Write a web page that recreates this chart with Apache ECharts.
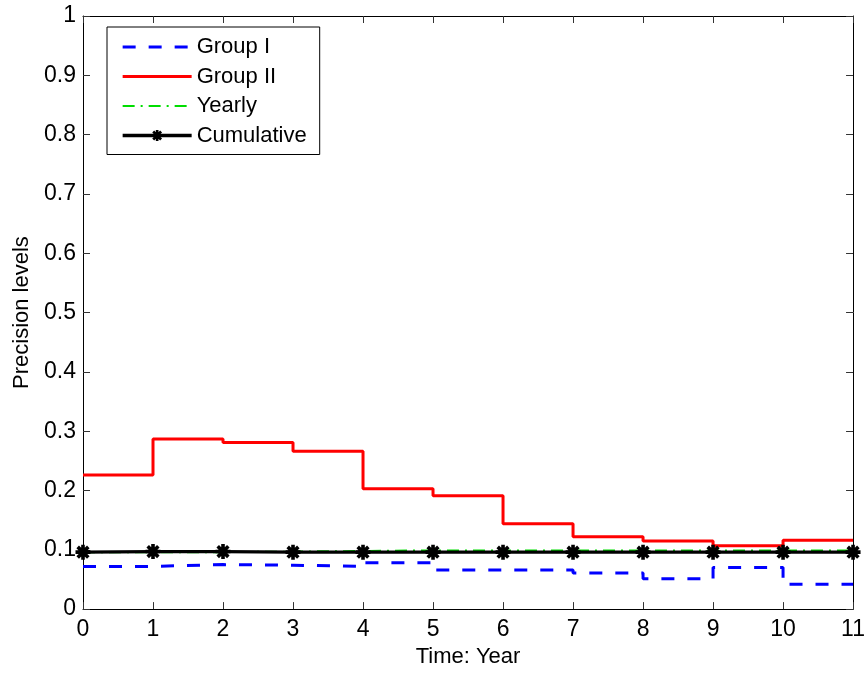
<!DOCTYPE html>
<html>
<head>
<meta charset="utf-8">
<title>Precision levels over time</title>
<script src="https://cdn.jsdelivr.net/npm/echarts@6/dist/echarts.min.js"></script>
<style>
  html, body { margin: 0; padding: 0; background: #fff; }
  #chart { width: 868px; height: 673px; }
</style>
</head>
<body>
<div id="chart"></div>
<script>
// Years 0..11; stair values hold from year i until year i+1 (last value repeated at 11)
const years = [0, 1, 2, 3, 4, 5, 6, 7, 8, 9, 10, 11];
const groupI = [0.072, 0.075, 0.074, 0.072, 0.078, 0.066, 0.066, 0.061, 0.051, 0.070, 0.042, 0.042];
const groupII = [0.226, 0.287, 0.281, 0.266, 0.203, 0.191, 0.144, 0.122, 0.115, 0.107, 0.116, 0.116];
const yearly = [0.096, 0.096, 0.097, 0.098, 0.099, 0.099, 0.099, 0.099, 0.099, 0.099, 0.099, 0.099];
const cumulative = [0.096, 0.097, 0.097, 0.096, 0.096, 0.096, 0.096, 0.096, 0.096, 0.096, 0.096, 0.096];
const seriesNames = ['Group I', 'Group II', 'Yearly', 'Cumulative'];

const FONT = 'Liberation Sans, Arial, Helvetica, sans-serif';

// Eight-spoke asterisk marker built from rotated bars
function asteriskPath(thickness) {
  const c = 50, half = 50, t = thickness / 2;
  let d = '';
  [0, 45, 90, 135].forEach(function (deg) {
    const a = deg * Math.PI / 180;
    const ux = Math.cos(a), uy = Math.sin(a);
    const vx = -uy, vy = ux;
    const pts = [
      [c - ux * half - vx * t, c - uy * half - vy * t],
      [c + ux * half - vx * t, c + uy * half - vy * t],
      [c + ux * half + vx * t, c + uy * half + vy * t],
      [c - ux * half + vx * t, c - uy * half + vy * t]
    ];
    d += 'M' + pts.map(function (p) { return p[0].toFixed(2) + ' ' + p[1].toFixed(2); }).join(' L') + ' Z ';
  });
  return 'path://' + d;
}

function pairs(vals) {
  return years.map(function (x, i) { return [x, vals[i]]; });
}

const chart = echarts.init(document.getElementById('chart'), null, { renderer: 'canvas' });

const nameText = { color: '#000', fontFamily: FONT, fontSize: 22 };
const tickText = { color: '#000', fontFamily: FONT, fontSize: 23 };
const tickStyle = { show: true, inside: true, length: 7, lineStyle: { color: '#333', width: 1 } };
// Line-only legend entries: hide the marker that line legends draw by default
const noMarker = { color: 'rgba(0,0,0,0)', borderWidth: 0, opacity: 0 };

chart.setOption({
  animation: false,
  backgroundColor: '#fff',
  textStyle: { fontFamily: FONT },
  grid: { left: 83, right: 12, top: 16, bottom: 61, containLabel: false },
  legend: {
    orient: 'vertical',
    left: 107,
    top: 27,
    data: [
      { name: seriesNames[0], itemStyle: noMarker },
      { name: seriesNames[1], itemStyle: noMarker },
      { name: seriesNames[2], itemStyle: noMarker },
      { name: seriesNames[3] }
    ],
    itemWidth: 69,
    itemHeight: 14,
    itemGap: 7.5,
    padding: [9, 13, 8, 14],
    borderColor: '#000',
    borderWidth: 1,
    backgroundColor: '#fff',
    lineStyle: { width: 'inherit' },
    textStyle: { color: '#000', fontFamily: FONT, fontSize: 22 }
  },
  xAxis: [{
    type: 'value',
    min: 0, max: 11, interval: 1,
    name: 'Time: Year',
    nameLocation: 'middle',
    nameGap: 34,
    nameTextStyle: nameText,
    axisLine: { show: true, onZero: false, lineStyle: { color: '#000', width: 1 } },
    axisTick: tickStyle,
    axisLabel: Object.assign({ margin: 9 }, tickText),
    splitLine: { show: false }
  }, {
    type: 'value', position: 'top',
    min: 0, max: 11, interval: 1,
    axisLine: { show: true, onZero: false, lineStyle: { color: '#000', width: 1 } },
    axisTick: tickStyle,
    axisLabel: { show: false },
    splitLine: { show: false }
  }],
  yAxis: [{
    type: 'value',
    min: 0, max: 1, interval: 0.1,
    name: 'Precision levels',
    nameLocation: 'middle',
    nameGap: 50,
    nameTextStyle: nameText,
    axisLine: { show: true, onZero: false, lineStyle: { color: '#000', width: 1 } },
    axisTick: tickStyle,
    axisLabel: Object.assign({ margin: 7, formatter: function (v) { return String(Math.round(v * 10) / 10); } }, tickText),
    splitLine: { show: false }
  }, {
    type: 'value', position: 'right',
    min: 0, max: 1, interval: 0.1,
    axisLine: { show: true, onZero: false, lineStyle: { color: '#000', width: 1 } },
    axisTick: tickStyle,
    axisLabel: { show: false },
    splitLine: { show: false }
  }],
  series: [{
    name: 'Group I',
    type: 'line',
    step: 'end',
    data: pairs(groupI),
    symbol: 'none',
    itemStyle: { color: '#0000ff' },
    lineStyle: { color: '#0000ff', width: 3, type: [13, 13] },
    z: 2
  }, {
    name: 'Group II',
    type: 'line',
    step: 'end',
    data: pairs(groupII),
    symbol: 'none',
    itemStyle: { color: '#ff0000' },
    lineStyle: { color: '#ff0000', width: 3 },
    z: 3
  }, {
    name: 'Yearly',
    type: 'line',
    step: 'end',
    data: pairs(yearly),
    symbol: 'none',
    itemStyle: { color: '#00ff00' },
    lineStyle: { color: '#00dd00', width: 2, type: [12, 6, 2, 6] },
    z: 4
  }, {
    name: 'Cumulative',
    type: 'line',
    data: pairs(cumulative),
    symbol: asteriskPath(24),
    symbolSize: 15,
    showAllSymbol: true,
    itemStyle: { color: '#000' },
    lineStyle: { color: '#000', width: 3.3 },
    z: 5
  }]
});
</script>
</body>
</html>
